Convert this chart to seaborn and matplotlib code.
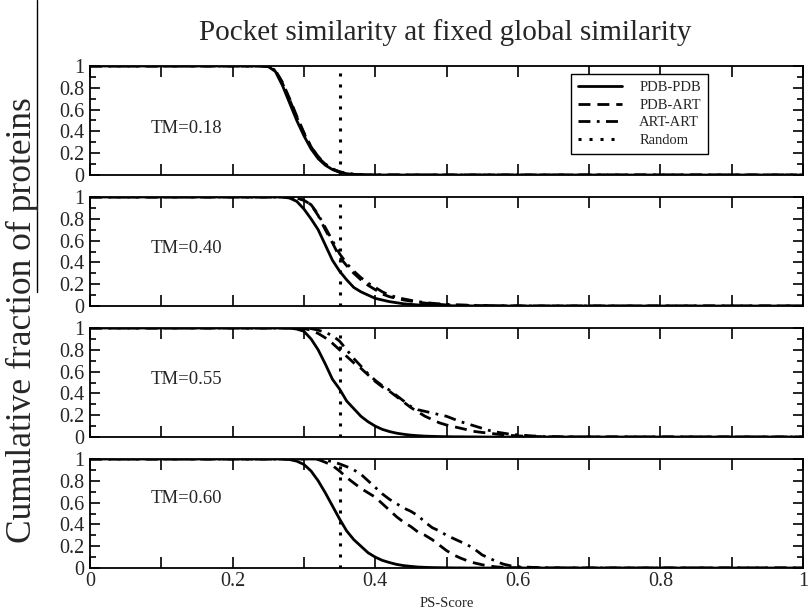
import numpy as np
import pandas as pd
import matplotlib
matplotlib.use("Agg")
import matplotlib.pyplot as plt
from matplotlib.lines import Line2D
from matplotlib.ticker import MultipleLocator, FixedLocator, FixedFormatter
import seaborn as sns

# ---------------- data ----------------
PS_GRID = [0.00, 0.24, 0.25, 0.26, 0.27, 0.28, 0.29, 0.30, 0.31, 0.32, 0.33,
           0.34, 0.35, 0.36, 0.37, 0.38, 0.39, 0.40, 0.41, 0.42, 0.43, 0.44,
           0.45, 0.46, 0.47, 0.48, 0.49, 0.50, 0.51, 0.52, 0.53, 0.54, 0.55,
           0.56, 0.57, 0.58, 0.59, 0.60, 0.62, 0.64, 0.66, 0.70, 1.00]

PAIRS = ["PDB-PDB", "PDB-ART", "ART-ART"]
TM_LABELS = ["TM=0.18", "TM=0.40", "TM=0.55", "TM=0.60"]
RANDOM_PS = 0.35

Z26 = [0.0] * 26
tm018_pdb_pdb = [1, 1, 0.995, 0.95, 0.82, 0.66, 0.50, 0.36, 0.24, 0.15, 0.09,
                 0.05, 0.025, 0.012, 0.005, 0.002, 0.001] + Z26
tm018_pdb_art = [1, 1, 0.997, 0.96, 0.85, 0.70, 0.54, 0.39, 0.26, 0.16, 0.10,
                 0.055, 0.028, 0.014, 0.006, 0.003, 0.001] + Z26
tm018_art_art = [1, 1, 0.997, 0.96, 0.84, 0.69, 0.53, 0.38, 0.26, 0.17, 0.10,
                 0.055, 0.03, 0.015, 0.007, 0.003, 0.001] + Z26

tm040_pdb_pdb = [1, 1, 1, 1, 1, 0.99, 0.96, 0.89, 0.80, 0.70, 0.56, 0.42, 0.32,
                 0.24, 0.17, 0.13, 0.10, 0.07, 0.055, 0.04, 0.03, 0.02, 0.015,
                 0.01, 0.007, 0.005, 0.004, 0.003, 0.002, 0.002, 0.001, 0.001,
                 0, 0, 0, 0, 0, 0, 0, 0, 0, 0, 0]
tm040_pdb_art = [1, 1, 1, 1, 1, 1.0, 0.99, 0.97, 0.93, 0.83, 0.70, 0.58, 0.45,
                 0.37, 0.30, 0.24, 0.19, 0.15, 0.11, 0.085, 0.07, 0.055, 0.045,
                 0.035, 0.027, 0.02, 0.015, 0.01, 0.008, 0.006, 0.005, 0.004,
                 0.003, 0.002, 0.002, 0.001, 0.001, 0, 0, 0, 0, 0, 0]
tm040_art_art = [1, 1, 1, 1, 1, 1.0, 0.99, 0.97, 0.93, 0.84, 0.72, 0.60, 0.48,
                 0.39, 0.32, 0.26, 0.21, 0.17, 0.13, 0.10, 0.08, 0.065, 0.052,
                 0.04, 0.032, 0.025, 0.02, 0.015, 0.012, 0.01, 0.008, 0.006,
                 0.005, 0.004, 0.003, 0.002, 0.001, 0.001, 0, 0, 0, 0, 0]

tm055_pdb_pdb = [1, 1, 1, 1, 1, 1, 0.99, 0.97, 0.90, 0.80, 0.67, 0.53, 0.44,
                 0.33, 0.26, 0.19, 0.14, 0.10, 0.07, 0.05, 0.035, 0.025, 0.017,
                 0.012, 0.008, 0.006, 0.004, 0.003, 0.002, 0.002, 0.001, 0.001,
                 0, 0, 0, 0, 0, 0, 0, 0, 0, 0, 0]
tm055_pdb_art = [1, 1, 1, 1, 1, 1, 1, 0.995, 0.98, 0.95, 0.91, 0.86, 0.80,
                 0.74, 0.68, 0.63, 0.57, 0.51, 0.46, 0.42, 0.37, 0.32, 0.27,
                 0.23, 0.19, 0.16, 0.13, 0.11, 0.095, 0.08, 0.065, 0.05, 0.042,
                 0.035, 0.027, 0.02, 0.015, 0.01, 0.005, 0.002, 0, 0, 0]
tm055_art_art = [1, 1, 1, 1, 1, 1, 1, 1, 0.995, 0.98, 0.96, 0.93, 0.88,
                 0.80, 0.72, 0.65, 0.58, 0.52, 0.47, 0.43, 0.38, 0.33, 0.28,
                 0.25, 0.235, 0.22, 0.205, 0.19, 0.165, 0.14, 0.12, 0.10, 0.08,
                 0.06, 0.045, 0.035, 0.025, 0.02, 0.01, 0.004, 0.002, 0, 0]

tm060_pdb_pdb = [1, 1, 1, 1, 1, 0.995, 0.98, 0.95, 0.89, 0.80, 0.69, 0.57, 0.45,
                 0.34, 0.26, 0.20, 0.14, 0.10, 0.07, 0.05, 0.033, 0.022, 0.015,
                 0.009, 0.006, 0.004, 0.003, 0.002, 0.001, 0.001,
                 0, 0, 0, 0, 0, 0, 0, 0, 0, 0, 0, 0, 0]
tm060_pdb_art = [1, 1, 1, 1, 1, 1, 1, 1, 1, 0.995, 0.97, 0.94, 0.89, 0.83,
                 0.78, 0.73, 0.69, 0.65, 0.59, 0.53, 0.47, 0.42, 0.38, 0.33,
                 0.30, 0.26, 0.21, 0.16, 0.12, 0.09, 0.065, 0.045, 0.03, 0.018,
                 0.01, 0.006, 0.003, 0.002, 0.001, 0, 0, 0, 0]
tm060_art_art = [1, 1, 1, 1, 1, 1, 1, 1, 1, 1, 0.99, 0.975, 0.955, 0.93,
                 0.90, 0.86, 0.80, 0.74, 0.68, 0.63, 0.59, 0.55, 0.52, 0.48,
                 0.42, 0.37, 0.34, 0.30, 0.27, 0.24, 0.21, 0.17, 0.12, 0.09,
                 0.06, 0.035, 0.02, 0.012, 0.006, 0.003, 0.001, 0, 0]

PANELS = [
    (tm018_pdb_pdb, tm018_pdb_art, tm018_art_art),
    (tm040_pdb_pdb, tm040_pdb_art, tm040_art_art),
    (tm055_pdb_pdb, tm055_pdb_art, tm055_art_art),
    (tm060_pdb_pdb, tm060_pdb_art, tm060_art_art),
]

# ---------------- style ----------------
sns.set_style("ticks")
plt.rcParams["font.family"] = ["Liberation Serif", "DejaVu Serif"]
plt.rcParams["axes.linewidth"] = 1.3
plt.rcParams["axes.edgecolor"] = "black"

DASHES = {"PDB-PDB": "", "PDB-ART": (4.3, 2.5), "ART-ART": (4.3, 2.3, 1.0, 2.3)}

fig = plt.figure(figsize=(8.08, 6.11), dpi=100)
L, W, H = 90 / 808, 713 / 808, 109 / 611
tops_px = [66, 197, 328, 459]
TM_TEXT_Y = [0.43, 0.53, 0.53, 0.64]

for i, (series, tm) in enumerate(zip(PANELS, TM_LABELS)):
    bottom = 1 - (tops_px[i] + 109) / 611
    ax = fig.add_axes([L, bottom, W, H])
    rows = []
    for pair, vals in zip(PAIRS, series):
        for x, y in zip(PS_GRID, vals):
            rows.append({"PS": x, "frac": y, "pair": pair})
    df = pd.DataFrame(rows)
    sns.lineplot(data=df, x="PS", y="frac", style="pair", style_order=PAIRS,
                 dashes=DASHES, color="black", linewidth=2.0, ax=ax,
                 legend=False, estimator=None, sort=False)
    ax.axvline(RANDOM_PS, color="black", linestyle=(0, (1, 2.6)), linewidth=2.2)
    ax.set_xlim(0, 1)
    ax.set_ylim(0, 1)
    ax.set_xlabel("")
    ax.set_ylabel("")
    ax.yaxis.set_major_locator(FixedLocator([0, 0.2, 0.4, 0.6, 0.8, 1.0]))
    ax.yaxis.set_major_formatter(FixedFormatter(["0", "0.2", "0.4", "0.6", "0.8", "1"]))
    ax.yaxis.set_minor_locator(MultipleLocator(0.1))
    ax.xaxis.set_major_locator(FixedLocator([0, 0.2, 0.4, 0.6, 0.8, 1.0]))
    ax.xaxis.set_minor_locator(MultipleLocator(0.1))
    ax.tick_params(axis="both", which="both", direction="in", top=True,
                   right=True, color="black", width=1.2)
    ax.tick_params(axis="x", which="both", length=8)
    ax.tick_params(axis="y", which="major", length=7)
    ax.tick_params(axis="y", which="minor", length=4)
    ax.tick_params(axis="y", labelsize=14.5, pad=4)
    ax.tick_params(axis="x", labelsize=14.5, pad=3)
    if i < 3:
        ax.tick_params(axis="x", labelbottom=False)
    else:
        ax.xaxis.set_major_formatter(FixedFormatter(["0", "0.2", "0.4", "0.6", "0.8", "1"]))
        ax.set_xlabel("PS-Score", fontsize=10.5, labelpad=4)
    ax.text(0.085, TM_TEXT_Y[i], tm, transform=ax.transAxes, fontsize=13.5,
            va="center", ha="left")
    if i == 0:
        handles = [Line2D([], [], color="black", lw=2.0, linestyle="-"),
                   Line2D([], [], color="black", lw=2.0, dashes=DASHES["PDB-ART"]),
                   Line2D([], [], color="black", lw=2.0, dashes=DASHES["ART-ART"]),
                   Line2D([], [], color="black", lw=2.2, linestyle=(0, (1, 2.6)))]
        leg = ax.legend(handles, PAIRS + ["Random"], loc="upper right",
                        bbox_to_anchor=(0.867, 0.93), borderaxespad=0,
                        fontsize=10.5, frameon=True, fancybox=False,
                        framealpha=1, edgecolor="black", handlelength=3.0,
                        borderpad=0.5, labelspacing=0.3, handletextpad=1.2)
        leg.get_frame().set_linewidth(1.0)

fig.text(445 / 808, 1 - 33 / 611, "Pocket similarity at fixed global similarity",
         ha="center", va="center", fontsize=21)
fig.text(22 / 808, 1 - 320 / 611, "Cumulative fraction of proteins",
         ha="center", va="center", rotation=90, fontsize=25.5)
fig.add_artist(Line2D([37 / 808, 37 / 808], [1.0, 1 - 292 / 611],
                      transform=fig.transFigure, color="black", lw=1.0))

fig.savefig("out.png", dpi=100)
